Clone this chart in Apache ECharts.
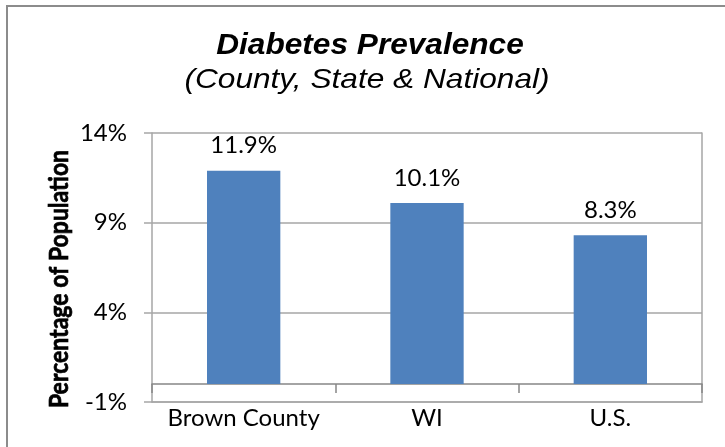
<!DOCTYPE html>
<html>
<head>
<meta charset="utf-8">
<script src="https://cdn.jsdelivr.net/npm/echarts@6/dist/echarts.min.js"></script>
<style>
html,body{margin:0;padding:0;background:#fff;}
#chart{width:725px;height:447px;}
</style>
</head>
<body>
<div id="chart"></div>
<script>
const categories = ['Brown County', 'WI', 'U.S.'];
const prevalence = [11.9, 10.1, 8.3];
const yTicks = { min: -1, max: 14, interval: 5 };
const titleText = 'Diabetes Prevalence';
const subtitleText = '(County, State & National)';
const yAxisName = 'Percentage of Population';

const chart = echarts.init(document.getElementById('chart'), null, { renderer: 'canvas' });
const gridColor = '#a6a6a6';
const axisColor = '#868686';
const labelFont = 'Lato';

const option = {
  animation: false,
  backgroundColor: '#ffffff',
  grid: { left: 152, right: 23, top: 133, bottom: 45, containLabel: false },
  xAxis: [
    {
      type: 'category',
      data: categories,
      position: 'bottom',
      axisLine: { onZero: false, show: true, lineStyle: { color: gridColor, width: 1.5 } },
      axisTick: { show: false },
      axisLabel: { color: '#000', fontFamily: labelFont, fontSize: 24, margin: 4, interval: 0, hideOverlap: false }
    },
    {
      type: 'category',
      data: categories,
      position: 'bottom',
      axisLine: { onZero: true, show: true, lineStyle: { color: axisColor, width: 1.5 } },
      axisTick: { show: true, length: 9, inside: false, interval: 0, lineStyle: { color: axisColor, width: 1.5 } },
      axisLabel: { show: false },
      splitLine: { show: false }
    }
  ],
  yAxis: [
    {
      type: 'value',
      min: yTicks.min,
      max: yTicks.max,
      interval: yTicks.interval,
      axisLine: { show: true, lineStyle: { color: gridColor, width: 1.5 } },
      axisTick: { show: true, length: 8, lineStyle: { color: gridColor, width: 1.5 } },
      axisLabel: { color: '#000', fontFamily: labelFont, fontSize: 24, margin: 25, formatter: v => v + '%' },
      splitLine: { show: true, lineStyle: { color: gridColor, width: 1.5 } }
    },
    {
      type: 'value',
      position: 'right',
      min: yTicks.min,
      max: yTicks.max,
      interval: yTicks.interval,
      axisLine: { show: true, lineStyle: { color: gridColor, width: 1.5 } },
      axisTick: { show: false },
      axisLabel: { show: false },
      splitLine: { show: false }
    }
  ],
  series: [
    {
      type: 'bar',
      xAxisIndex: 0,
      yAxisIndex: 0,
      data: prevalence,
      barWidth: '40%',
      itemStyle: { color: '#4f81bd' },
      label: {
        show: true,
        position: 'top',
        distance: 13,
        color: '#000',
        fontFamily: labelFont,
        fontSize: 24,
        formatter: p => p.value.toFixed(1) + '%'
      }
    }
  ],
  graphic: [
    {
      type: 'rect',
      shape: { x: 7, y: 6, width: 740, height: 470 },
      style: { fill: 'none', stroke: '#8c8c8c', lineWidth: 2 },
      silent: true
    },
    {
      type: 'text',
      x: 370, y: 46,
      scaleX: 1.09,
      style: {
        text: titleText,
        font: 'italic bold 29px "Liberation Sans", Arial, sans-serif',
        fill: '#000',
        textAlign: 'center',
        textVerticalAlign: 'middle'
      }
    },
    {
      type: 'text',
      x: 367, y: 80,
      scaleX: 1.13,
      style: {
        text: subtitleText,
        font: 'italic 28px "Liberation Sans", Arial, sans-serif',
        fill: '#000',
        textAlign: 'center',
        textVerticalAlign: 'middle'
      }
    },
    {
      type: 'text',
      x: 59, y: 279,
      rotation: Math.PI / 2,
      scaleY: 1.16,
      style: {
        text: yAxisName,
        font: 'bold 23px Lato, sans-serif',
        fill: '#000',
        stroke: '#000',
        lineWidth: 0.6,
        textAlign: 'center',
        textVerticalAlign: 'middle'
      }
    }
  ]
};
chart.setOption(option);
</script>
</body>
</html>
